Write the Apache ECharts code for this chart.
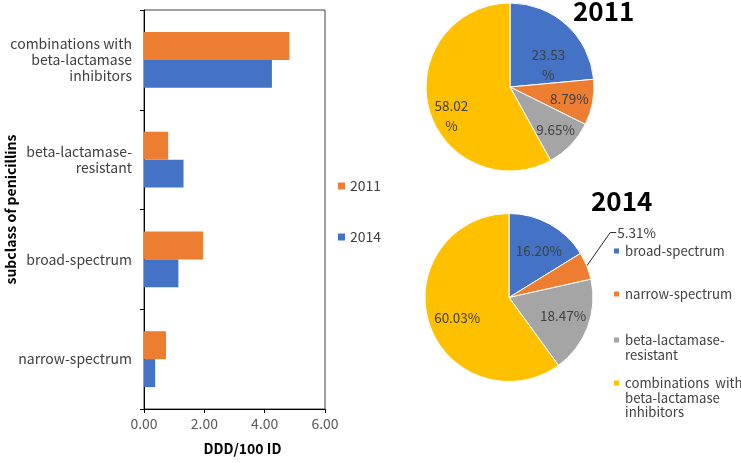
<!DOCTYPE html>
<html>
<head>
<meta charset="utf-8">
<script src="https://cdn.jsdelivr.net/npm/echarts@6/dist/echarts.min.js"></script>
<style>html,body{margin:0;padding:0;background:#fff;}#c{width:741px;height:463px;}</style>
</head>
<body>
<div id="c"></div>
<script>
// ---- data ----
const barCategories = ['narrow-spectrum', 'broad-spectrum', 'beta-lactamase-resistant', 'combinations with beta-lactamase inhibitors'];
const barSeriesNames = ['2011', '2014'];
const ddd2011 = [0.73, 1.96, 0.80, 4.82];
const ddd2014 = [0.37, 1.14, 1.31, 4.24];
const xTicks = [0, 2, 4, 6];

const pieCategories = ['broad-spectrum', 'narrow-spectrum', 'beta-lactamase-resistant', 'combinations with beta-lactamase inhibitors'];
const share2011 = [23.53, 8.79, 9.65, 58.02];
const share2014 = [16.20, 5.31, 18.47, 60.03];
const pieTitles = ['2011', '2014'];

// ---- display / style ----
const axisLabelText = {
  'narrow-spectrum': 'narrow-spectrum',
  'broad-spectrum': 'broad-spectrum',
  'beta-lactamase-resistant': 'beta-lactamase-\nresistant',
  'combinations with beta-lactamase inhibitors': 'combinations with\nbeta-lactamase\ninhibitors'
};
const legendText = {
  'broad-spectrum': 'broad-spectrum',
  'narrow-spectrum': 'narrow-spectrum',
  'beta-lactamase-resistant': 'beta-lactamase-\nresistant',
  'combinations with beta-lactamase inhibitors': 'combinations  with\nbeta-lactamase\ninhibitors'
};
const FONT = 'Noto Sans CJK SC';
const sliceColors = ['#4472C4', '#ED7D31', '#A5A5A5', '#FFC000'];
const barColors = {'2011': '#ED7D31', '2014': '#4472C4'};
const wrap2011 = [true, false, false, true];
const offs2011 = [[8, 11], [15, 4], [13, 12], [-15, 18]];
const offs2014 = [[8, -7], [0, -25], [12, 2], [-9, 6]];

function fmtPct(v) { return v.toFixed(2) + '%'; }

const chart = echarts.init(document.getElementById('c'), null, {renderer: 'canvas'});

const pieLegendTops = [243.75, 286.75, 318.25, 346.75];
const LH = 14.5;
const pieLegends = pieCategories.map((name, i) => {
  const n = legendText[name].split('\n').length;
  return {
    orient: 'vertical', left: 612, top: pieLegendTops[i], padding: 0,
    itemWidth: 7, itemHeight: 7, icon: 'rect',
    data: [name],
    formatter: (nm) => '\n'.repeat(n - 1) + legendText[nm],
    textStyle: {fontFamily: FONT, fontSize: 13.2, color: '#404040', lineHeight: LH}
  };
});

function pieSeries(idx, values, center, offs, wrap) {
  return {
    type: 'pie', name: pieTitles[idx],
    center: center, radius: 84, startAngle: 90, clockwise: true,
    animation: false,
    itemStyle: {borderColor: '#fff', borderWidth: 1},
    label: {
      show: true, position: 'inside', fontFamily: FONT, fontSize: 13.5, color: '#404040', lineHeight: 20,
      formatter: (p) => (wrap && wrap[p.dataIndex]) ? p.value.toFixed(2) + '\n%' : fmtPct(p.value)
    },
    labelLine: {show: false},
    labelLayout: (p) => {
      const o = offs[p.dataIndex];
      const res = {dx: o[0], dy: o[1]};
      if (p.labelLinePoints && p.labelLinePoints.length === 3) {
        const r = p.labelRect;
        const ly = r.y + r.height / 2 + o[1];
        const lx = r.x + o[0];
        res.labelLinePoints = [p.labelLinePoints[0], [lx - 7, ly], [lx - 1, ly]];
      }
      return res;
    },
    data: pieCategories.map((name, i) => {
      const item = {name: name, value: values[i], itemStyle: {color: sliceColors[i]}};
      if (idx === 1 && i === 1) {
        item.label = {position: 'outside', distanceToLabelLine: 4};
        item.labelLine = {show: true, length: 22, length2: 6, lineStyle: {color: '#262626', width: 1}};
      }
      return item;
    })
  };
}

const option = {
  backgroundColor: '#fff',
  animation: false,
  textStyle: {fontFamily: FONT},
  title: [
    {text: pieTitles[0], left: 573, top: -2, padding: 0, textStyle: {fontFamily: FONT, fontSize: 26, fontWeight: 'bold', color: '#000'}},
    {text: pieTitles[1], left: 591, top: 188, padding: 0, textStyle: {fontFamily: FONT, fontSize: 26, fontWeight: 'bold', color: '#000'}}
  ],
  legend: [
    {
      orient: 'vertical', left: 338, top: 179, padding: 0, itemGap: 37,
      itemWidth: 7, itemHeight: 7, icon: 'rect',
      data: barSeriesNames,
      textStyle: {fontFamily: FONT, fontSize: 14, color: '#404040'}
    }
  ].concat(pieLegends),
  grid: {left: 144, right: 416, top: 10, bottom: 54, show: true, borderColor: '#404040', borderWidth: 1, containLabel: false, outerBoundsMode: 'none'},
  xAxis: {
    type: 'value', min: xTicks[0], max: xTicks[xTicks.length - 1], interval: 2,
    name: 'DDD/100 ID', nameLocation: 'middle', nameGap: 33, nameMoveOverlap: false,
    nameTextStyle: {fontFamily: FONT, fontSize: 14, fontWeight: 'bold', color: '#000', padding: [0, 0, 0, 16]},
    axisLine: {show: true, lineStyle: {color: '#000', width: 1}},
    axisTick: {show: true, length: 4, lineStyle: {color: '#000'}},
    splitLine: {show: false},
    axisLabel: {fontFamily: FONT, fontSize: 14, color: '#595959', margin: 8, formatter: (v) => v.toFixed(2)}
  },
  yAxis: {
    type: 'category', data: barCategories,
    name: 'subclass of penicillins', nameLocation: 'middle', nameGap: 126, nameMoveOverlap: false,
    nameTextStyle: {fontFamily: FONT, fontSize: 14, fontWeight: 'bold', color: '#000'},
    axisLine: {show: true, lineStyle: {color: '#000', width: 1}},
    axisTick: {show: true, length: 4, lineStyle: {color: '#000'}},
    axisLabel: {fontFamily: FONT, fontSize: 14, color: '#404040', lineHeight: 16, margin: 12, align: 'right', formatter: (v) => axisLabelText[v]}
  },
  series: [
    {type: 'bar', name: '2011', data: ddd2011, barGap: '0%', barCategoryGap: '44%', itemStyle: {color: barColors['2011']}},
    {type: 'bar', name: '2014', data: ddd2014, barGap: '0%', barCategoryGap: '44%', itemStyle: {color: barColors['2014']}},
    pieSeries(0, share2011, [510, 87], offs2011, wrap2011),
    pieSeries(1, share2014, [509, 297.5], offs2014, null)
  ]
};
chart.setOption(option);
</script>
</body>
</html>
